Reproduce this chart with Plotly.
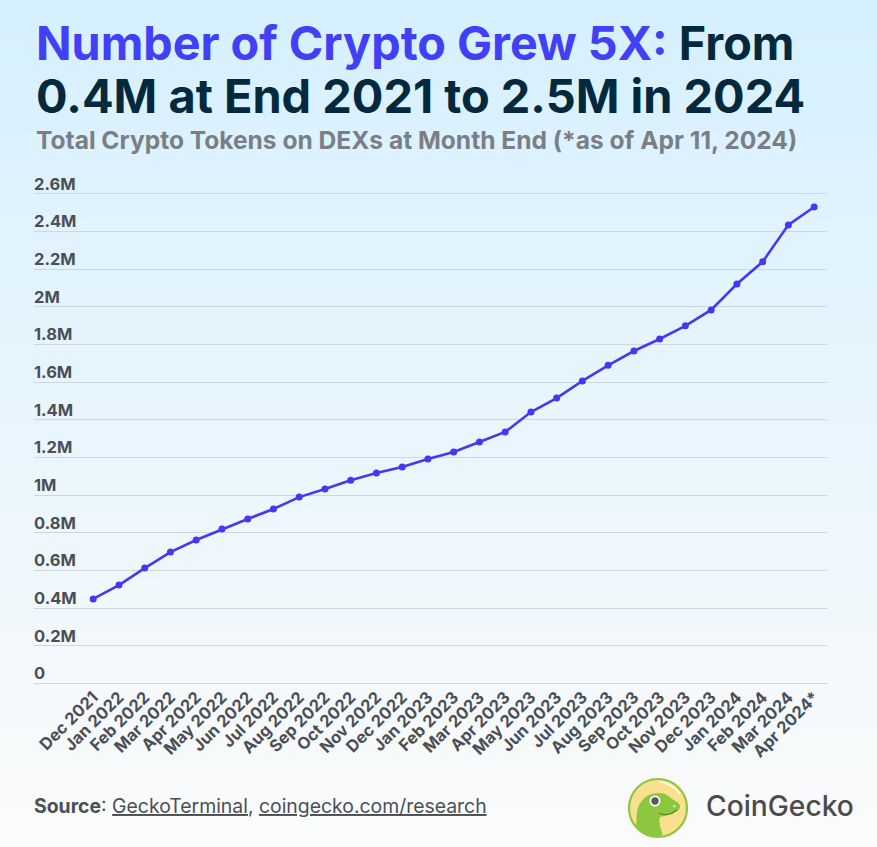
import plotly.graph_objects as go

W, H = 877, 847
months = ["Dec 2021","Jan 2022","Feb 2022","Mar 2022","Apr 2022","May 2022","Jun 2022","Jul 2022","Aug 2022",
          "Sep 2022","Oct 2022","Nov 2022","Dec 2022","Jan 2023","Feb 2023","Mar 2023","Apr 2023","May 2023",
          "Jun 2023","Jul 2023","Aug 2023","Sep 2023","Oct 2023","Nov 2023","Dec 2023","Jan 2024","Feb 2024",
          "Mar 2024","Apr 2024*"]
tokens = [449000,523000,613000,698000,762000,820000,874000,927000,990000,1033000,1080000,1118000,1150000,
          1192000,1230000,1283000,1336000,1442000,1516000,1607000,1690000,1766000,1830000,1900000,1984000,
          2122000,2240000,2436000,2531000]
y_ticks = [0,200000,400000,600000,800000,1000000,1200000,1400000,1600000,1800000,2000000,2200000,2400000,2600000]
y_labels = ["0","0.2M","0.4M","0.6M","0.8M","1M","1.2M","1.4M","1.6M","1.8M","2M","2.2M","2.4M","2.6M"]

def px(x): return x / W
def py(y): return 1 - y / H
def lerp(a, b, t): return [round(a[i] + (b[i] - a[i]) * t) for i in range(3)]

shapes = []
N = 70
top, bottom = (214, 240, 255), (251, 251, 251)
for i in range(N):
    c = lerp(top, bottom, i / (N - 1))
    shapes.append(dict(type="rect", xref="paper", yref="paper", x0=0, x1=1, y0=py((i + 1) * H / N + 1), y1=py(i * H / N),
                       fillcolor=f"rgb({c[0]},{c[1]},{c[2]})", line_width=0, layer="below"))

def P(s):
    out = []
    for tok in s.split():
        if "," in tok:
            a, b = tok.split(",")
            out.append(f"{px(float(a)):.5f},{py(float(b)):.5f}")
        else:
            out.append(tok)
    return " ".join(out)

cx, cy, r = 658, 808, 29
shapes += [
    dict(type="circle", xref="paper", yref="paper", x0=px(cx-r), x1=px(cx+r), y0=py(cy+r), y1=py(cy-r),
         fillcolor="#F8E08E", line=dict(color="#8DC63F", width=2.2)),
    dict(type="path", xref="paper", yref="paper",
         path=P("M 636,826 C 637,816 636,808 641,802 C 645,796 651,793 659,793 C 665,793 669,796 672,799 C 676,801 681,804 680,808 C 677,813 668,815 660,817 C 658,820 661,830 663,835 C 654,838 642,836 636,826 Z"),
         fillcolor="#8DC63F", line_width=0),
    dict(type="circle", xref="paper", yref="paper", x0=px(649.5), x1=px(660.5), y0=py(806.5), y1=py(795.5),
         fillcolor="white", line_width=0),
    dict(type="circle", xref="paper", yref="paper", x0=px(651.3), x1=px(658.7), y0=py(804.7), y1=py(797.3),
         fillcolor="#58595B", line_width=0),
    dict(type="circle", xref="paper", yref="paper", x0=px(673), x1=px(675.5), y0=py(807.5), y1=py(805),
         fillcolor="#DDEBB0", line_width=0),
    dict(type="path", xref="paper", yref="paper",
         path=P("M 659,813 C 664,816 671,815 677,810"), line=dict(color="#4F8A22", width=1.2)),
    dict(type="path", xref="paper", yref="paper",
         path=P("M 660,782 C 668,783 675,787 680,794"), line=dict(color="#FFFFFF", width=1.5)),
]

def note(text, x, y, size, color, weight=None, anchor="left"):
    return dict(text=text, xref="paper", yref="paper", x=px(x), y=py(y), xanchor=anchor, yanchor="middle",
                showarrow=False, align="left",
                font=dict(family="Inter", size=size, color=color, **({"weight": weight} if weight else {})))

annotations = [
    note('<span style="color:#4140F6">Number of Crypto Grew 5X:</span> From', 33.5, 43, 46.7, "#05293C", 700),
    note("0.4M at End 2021 to 2.5M in 2024", 33.5, 96, 46.9, "#05293C", 700),
    note("Total Crypto Tokens on DEXs at Month End (*as of Apr 11, 2024)", 33.5, 140, 24.55, "#7B7F85", 700),
    note("<b>Source</b>: <u>GeckoTerminal</u>, <u>coingecko.com/research</u>", 31.5, 806, 19.4, "#4B4F55"),
    note("CoinGecko", 703.5, 806, 28.2, "#4B4B4B", 500),
]

Y_PER_PX = 2600000 / 489.5
y_low, y_high = -100000, 2760000
y_bot = 683.5 - y_low / Y_PER_PX
y_top = 683.5 - y_high / Y_PER_PX

fig = go.Figure(go.Scatter(
    x=months, y=tokens, mode="lines+markers",
    line=dict(color="#4339F2", width=2.6),
    marker=dict(color="#4339F2", size=7),
    cliponaxis=False,
))
fig.update_layout(
    width=W, height=H, autosize=False, showlegend=False,
    margin=dict(l=0, r=0, t=0, b=0),
    paper_bgcolor="rgba(0,0,0,0)", plot_bgcolor="rgba(0,0,0,0)",
    shapes=shapes, annotations=annotations,
    xaxis=dict(domain=[px(34), px(827)], range=[-2.3, 28.5], type="category",
               anchor="free", position=py(683.5),
               tickangle=-45, showgrid=False, zeroline=False, showline=False, ticks="",
               tickmode="array", tickvals=months, ticktext=months,
               tickfont=dict(family="Inter", size=16.5, color="#4B4F55", weight=700)),
    yaxis=dict(domain=[py(y_bot), py(y_top)], range=[y_low, y_high], tickvals=y_ticks, ticktext=y_labels,
               ticklabelposition="inside", ticklabelshift=-10, ticklabelstandoff=-3, ticks="",
               gridcolor="#CFD7DE", gridwidth=1, zeroline=False, showline=False,
               tickfont=dict(family="Inter", size=16.5, color="#4B4F55", weight=700)),
)
fig.write_html("out.html", post_script="document.body.style.margin='0';", config={"displayModeBar": False})
